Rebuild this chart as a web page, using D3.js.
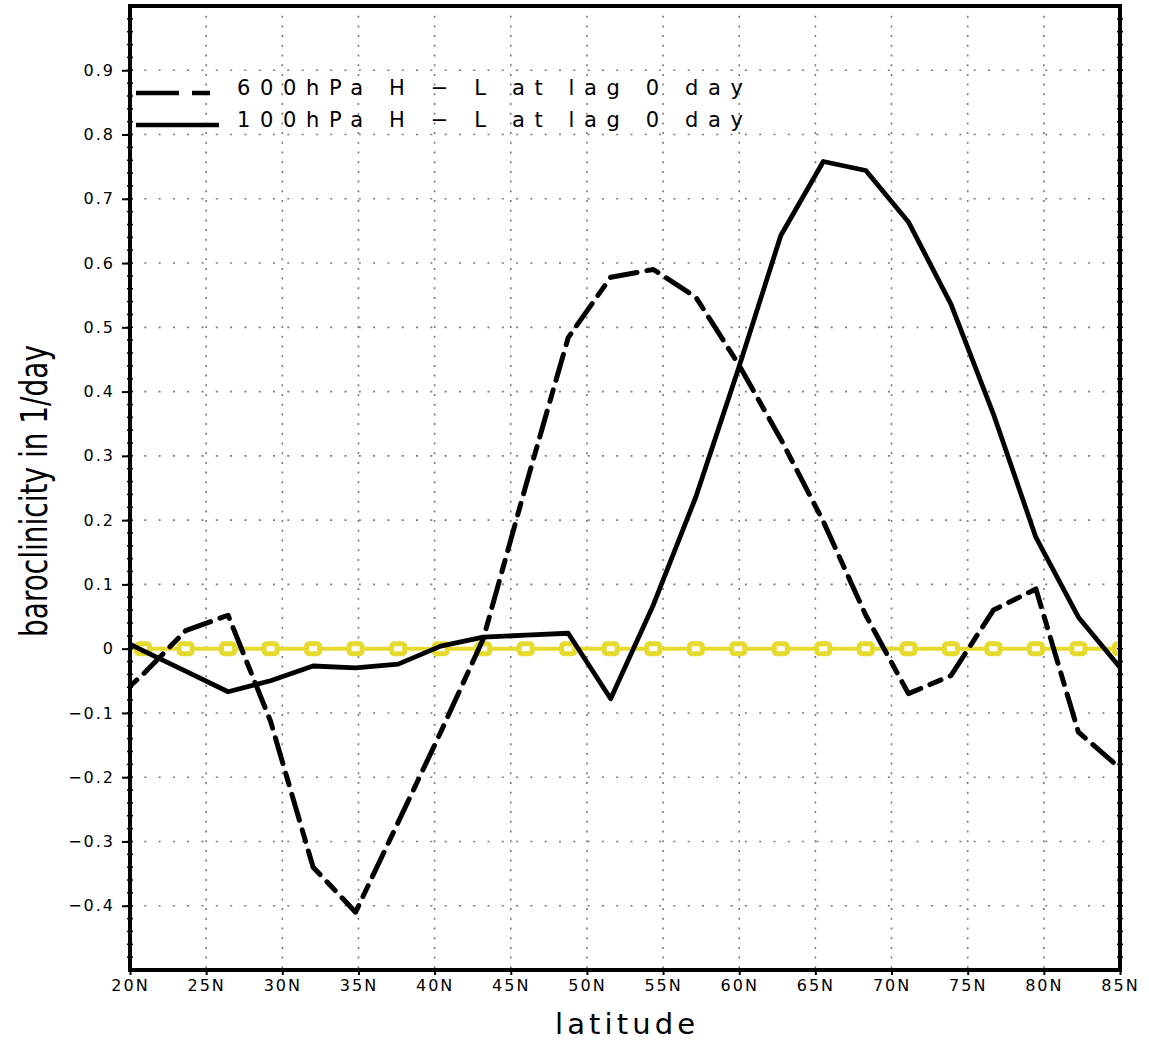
<!DOCTYPE html>
<html>
<head>
<meta charset="utf-8">
<script src="https://cdn.jsdelivr.net/npm/d3@7"></script>
<style>
  body { margin: 0; background: #fff; }
  text { font-family: "DejaVu Sans", sans-serif; fill: #000; }
</style>
</head>
<body>
<div id="chart"></div>
<script>
// latitude of each grid row (first one falls just outside the axis and is clipped)
var lats = [18.06, 20.85, 23.65, 26.44, 29.23, 32.02, 34.81, 37.61, 40.40, 43.19, 45.98, 48.77,
            51.56, 54.36, 57.15, 59.94, 62.73, 65.52, 68.31, 71.11, 73.90, 76.69, 79.48, 82.27, 85.06]

// 600hPa H - L at lag 0 day (dashed)
var hl600 = [-0.10, -0.04, 0.028, 0.052, -0.113, -0.34, -0.41, -0.27, -0.13, 0.015, 0.253, 0.484,
             0.578, 0.59, 0.547, 0.443, 0.326, 0.198, 0.052, -0.07, -0.042, 0.06, 0.093, -0.13, -0.187]

// 100hPa H - L at lag 0 day (solid)
var hl100 = [0.03, -0.003, -0.035, -0.067, -0.05, -0.027, -0.03, -0.024, 0.004, 0.018, 0.021, 0.024,
             -0.078, 0.068, 0.236, 0.435, 0.643, 0.758, 0.744, 0.664, 0.536, 0.365, 0.173, 0.049, -0.031]

// zero reference line
var zeroLine = [0, 0, 0, 0, 0, 0, 0, 0, 0, 0, 0, 0, 0, 0, 0, 0, 0, 0, 0, 0, 0, 0, 0, 0, 0]

var xTicks = [20, 25, 30, 35, 40, 45, 50, 55, 60, 65, 70, 75, 80, 85]
var xTickLabels = ['20N', '25N', '30N', '35N', '40N', '45N', '50N', '55N', '60N', '65N', '70N', '75N', '80N', '85N']
var yTicks = [-0.4, -0.3, -0.2, -0.1, 0, 0.1, 0.2, 0.3, 0.4, 0.5, 0.6, 0.7, 0.8, 0.9]

var legendNames = ['600hPa H \u2212 L at lag 0 day', '100hPa H \u2212 L at lag 0 day']

var W = 1149, H = 1041
var plotL = 130, plotR = 1120, plotT = 6, plotB = 970

var svg = d3.select('#chart').append('svg')
  .attr('width', W)
  .attr('height', H)

var x = d3.scaleLinear().domain([20, 85]).range([plotL, plotR])
var y = d3.scaleLinear().domain([-0.5, 1.0]).range([plotB, plotT])

svg.append('defs').append('clipPath')
  .attr('id', 'plotclip')
  .append('rect')
  .attr('x', plotL).attr('y', plotT)
  .attr('width', plotR - plotL).attr('height', plotB - plotT)

/** grid */
var grid = svg.append('g').attr('class', 'grid')
grid.selectAll('.vgrid')
  .data(xTicks.slice(1, -1))
  .enter().append('line')
  .attr('x1', d => x(d)).attr('x2', d => x(d))
  .attr('y1', plotT).attr('y2', plotB)
  .attr('stroke', '#7a7a7a')
  .attr('stroke-width', 1.6)
  .attr('stroke-dasharray', '2,7.7')

grid.selectAll('.hgrid')
  .data(yTicks)
  .enter().append('line')
  .attr('x1', plotL).attr('x2', plotR)
  .attr('y1', d => y(d)).attr('y2', d => y(d))
  .attr('stroke', '#7a7a7a')
  .attr('stroke-width', 1.6)
  .attr('stroke-dasharray', '2,12.3')

/** data lines */
var line = d3.line()
  .x((d, i) => x(lats[i]))
  .y(d => y(d))

var plot = svg.append('g').attr('clip-path', 'url(#plotclip)')

plot.append('path')
  .datum(zeroLine)
  .attr('d', line)
  .attr('fill', 'none')
  .attr('stroke', '#e6da2e')
  .attr('stroke-width', 4)

plot.selectAll('.marker')
  .data(zeroLine.slice(1))
  .enter().append('rect')
  .attr('x', (d, i) => x(lats[i + 1]) - 6.5)
  .attr('y', d => y(d) - 5)
  .attr('width', 13)
  .attr('height', 10)
  .attr('rx', 2.5)
  .attr('fill', '#fff')
  .attr('stroke', '#e6da2e')
  .attr('stroke-width', 5)

plot.append('path')
  .datum(hl600)
  .attr('d', line)
  .attr('fill', 'none')
  .attr('stroke', '#000')
  .attr('stroke-width', 5)
  .attr('stroke-linecap', 'round')
  .attr('stroke-linejoin', 'round')
  .attr('stroke-dasharray', '27,10,12,10')

plot.append('path')
  .datum(hl100)
  .attr('d', line)
  .attr('fill', 'none')
  .attr('stroke', '#000')
  .attr('stroke-width', 4.8)
  .attr('stroke-linejoin', 'round')

/** axes */
var xAxis = d3.axisBottom(x)
  .tickValues(xTicks)
  .tickFormat((d, i) => xTickLabels[i])
  .tickSize(5)
  .tickPadding(5)

var gx = svg.append('g')
  .attr('transform', 'translate(0,' + plotB + ')')
  .call(xAxis)
gx.select('.domain').remove()
gx.selectAll('line').attr('stroke', '#000').attr('stroke-width', 2)
gx.selectAll('text')
  .attr('font-size', '16px')
  .attr('letter-spacing', '2px')
  .style('font-family', '"DejaVu Sans", sans-serif')

var yAxis = d3.axisLeft(y)
  .tickValues(yTicks)
  .tickFormat(d => d === 0 ? '0' : d3.format('.1f')(d))
  .tickSize(8)
  .tickPadding(7)

var gy = svg.append('g')
  .attr('transform', 'translate(' + plotL + ',0)')
  .call(yAxis)
gy.select('.domain').remove()
gy.selectAll('line').attr('stroke', '#000').attr('stroke-width', 2)
gy.selectAll('text')
  .attr('font-size', '16px')
  .attr('letter-spacing', '2px')
  .style('font-family', '"DejaVu Sans", sans-serif')

// minor ticks on the side axes
var minor = d3.range(-24, 50).map(d => d / 50)
svg.append('g').selectAll('line')
  .data(minor)
  .enter().append('line')
  .attr('x1', plotL - 3).attr('x2', plotL + 3)
  .attr('y1', d => y(d)).attr('y2', d => y(d))
  .attr('stroke', '#000').attr('stroke-width', 1.5)
svg.append('g').selectAll('line')
  .data(minor)
  .enter().append('line')
  .attr('x1', plotR - 3).attr('x2', plotR + 3)
  .attr('y1', d => y(d)).attr('y2', d => y(d))
  .attr('stroke', '#000').attr('stroke-width', 1.5)

// frame
svg.append('rect')
  .attr('x', plotL).attr('y', plotT)
  .attr('width', plotR - plotL).attr('height', plotB - plotT)
  .attr('fill', 'none')
  .attr('stroke', '#000')
  .attr('stroke-width', 4)

/** legend */
var legend = svg.append('g')
legend.append('line')
  .attr('x1', 136).attr('x2', 212)
  .attr('y1', 93).attr('y2', 93)
  .attr('stroke', '#000').attr('stroke-width', 4.5)
  .attr('stroke-dasharray', '43,13,18,13')
legend.append('line')
  .attr('x1', 136).attr('x2', 219)
  .attr('y1', 125).attr('y2', 125)
  .attr('stroke', '#000').attr('stroke-width', 4.5)

legend.selectAll('text')
  .data(legendNames)
  .enter().append('text')
  .attr('x', 237)
  .attr('y', (d, i) => 95 + i * 32)
  .attr('font-size', '21px')
  .attr('textLength', 506)
  .attr('lengthAdjust', 'spacing')
  .text(d => d)

/** axis titles */
svg.append('text')
  .attr('x', 625)
  .attr('y', 1034)
  .attr('text-anchor', 'middle')
  .attr('font-size', '29px')
  .attr('textLength', 140)
  .attr('lengthAdjust', 'spacing')
  .text('latitude')

svg.append('text')
  .attr('transform', 'translate(47,491) rotate(-90)')
  .attr('text-anchor', 'middle')
  .attr('font-size', '37px')
  .attr('textLength', 292)
  .attr('lengthAdjust', 'spacingAndGlyphs')
  .style('font-family', '"Liberation Sans Narrow", "DejaVu Sans Condensed", sans-serif')
  .text('baroclinicity in 1/day')
</script>
</body>
</html>
